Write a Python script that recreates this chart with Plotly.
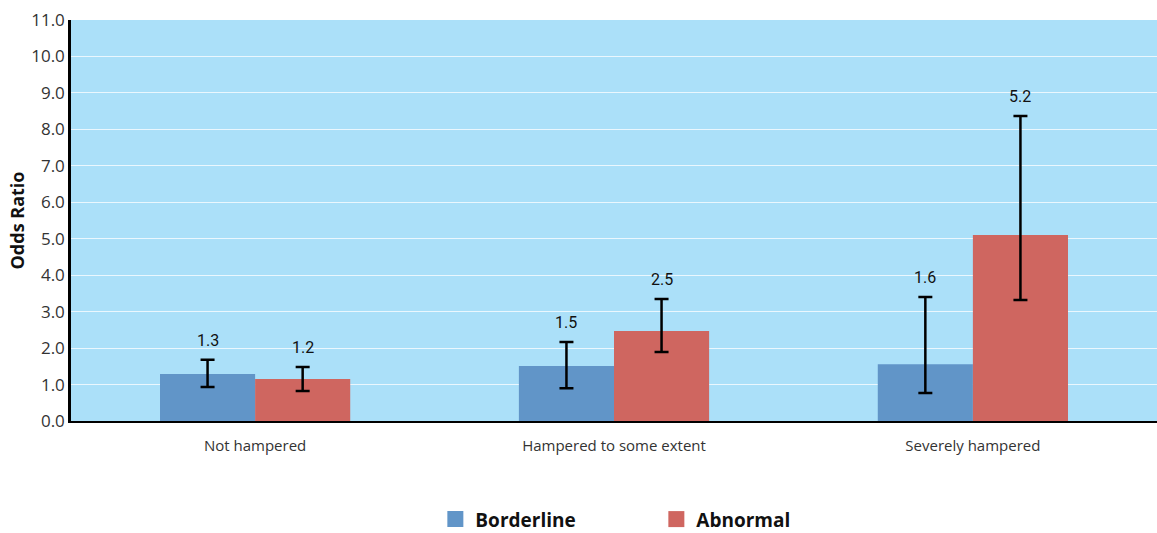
import plotly.graph_objects as go

categories = ["Not hampered", "Hampered to some extent", "Severely hampered"]
borderline = [1.29, 1.51, 1.56]
borderline_lo = [0.93, 0.90, 0.77]
borderline_hi = [1.68, 2.17, 3.40]
borderline_labels = ["1.3", "1.5", "1.6"]
abnormal = [1.15, 2.47, 5.10]
abnormal_lo = [0.82, 1.89, 3.32]
abnormal_hi = [1.48, 3.35, 8.37]
abnormal_labels = ["1.2", "2.5", "5.2"]
y_ticks = [0, 1, 2, 3, 4, 5, 6, 7, 8, 9, 10, 11]

BLUE = "#6195C8"
RED = "#CF6660"
BG = "#ABE0F9"
BARGAP = 0.47

fig = go.Figure()

def add_series(name, vals, lo, hi, color, offsetgroup):
    fig.add_trace(go.Bar(
        x=categories, y=vals, name=name, marker_color=color,
        marker_line_width=0, showlegend=False, offsetgroup=offsetgroup,
        error_y=dict(type="data", symmetric=False,
                     array=[h - v for h, v in zip(hi, vals)],
                     arrayminus=[v - l for v, l in zip(vals, lo)],
                     color="black", thickness=2.5, width=7),
    ))
    fig.add_trace(go.Scatter(
        x=[None], y=[None], mode="markers", name=name,
        marker=dict(symbol="square", size=24, color=color),
    ))

add_series("Borderline", borderline, borderline_lo, borderline_hi, BLUE, "b")
add_series("Abnormal", abnormal, abnormal_lo, abnormal_hi, RED, "a")

half = (1 - BARGAP) / 4
for i, cat in enumerate(categories):
    for hi, labs, sign in ((borderline_hi, borderline_labels, -1),
                           (abnormal_hi, abnormal_labels, 1)):
        fig.add_annotation(
            x=i + sign * half, y=hi[i], text=labs[i], showarrow=False,
            yanchor="bottom", yshift=8, xref="x", yref="y",
            font=dict(family="Roboto, Arial", size=16, color="#111"),
        )

fig.update_layout(
    width=1157, height=533,
    margin=dict(l=71, r=0, t=20, b=112, autoexpand=False),
    paper_bgcolor="white", plot_bgcolor=BG,
    barmode="group", bargap=BARGAP, bargroupgap=0,
    font=dict(family="Open Sans, Noto Sans, sans-serif", color="#333"),
    legend=dict(orientation="h", x=0.539, xanchor="center", y=-0.245, yanchor="middle",
                entrywidth=176, entrywidthmode="pixels",
                font=dict(size=19, color="#111", family="Open Sans, Noto Sans, sans-serif", weight="bold"),
                itemsizing="trace", bgcolor="rgba(0,0,0,0)"),
    xaxis=dict(type="category", showline=True, linecolor="black", linewidth=2,
               ticks="", tickfont=dict(size=15, color="#333"), showgrid=False,
               ticklabelstandoff=10, range=[-0.513, 2.513], automargin=False),
    yaxis=dict(range=[0, 11], tickvals=y_ticks, tickformat=".1f",
               showline=True, linecolor="black", linewidth=2.5,
               gridcolor="rgba(255,255,255,0.75)", gridwidth=1, zeroline=False,
               ticks="", tickfont=dict(size=17, color="#333"), automargin=False,
               title=dict(text="<b>Odds Ratio</b>", font=dict(size=18, color="#111"), standoff=2)),
)

fig.write_html("out.html", config={"displayModeBar": False},
               post_script="document.body.style.margin='0';document.body.style.overflow='hidden';")
